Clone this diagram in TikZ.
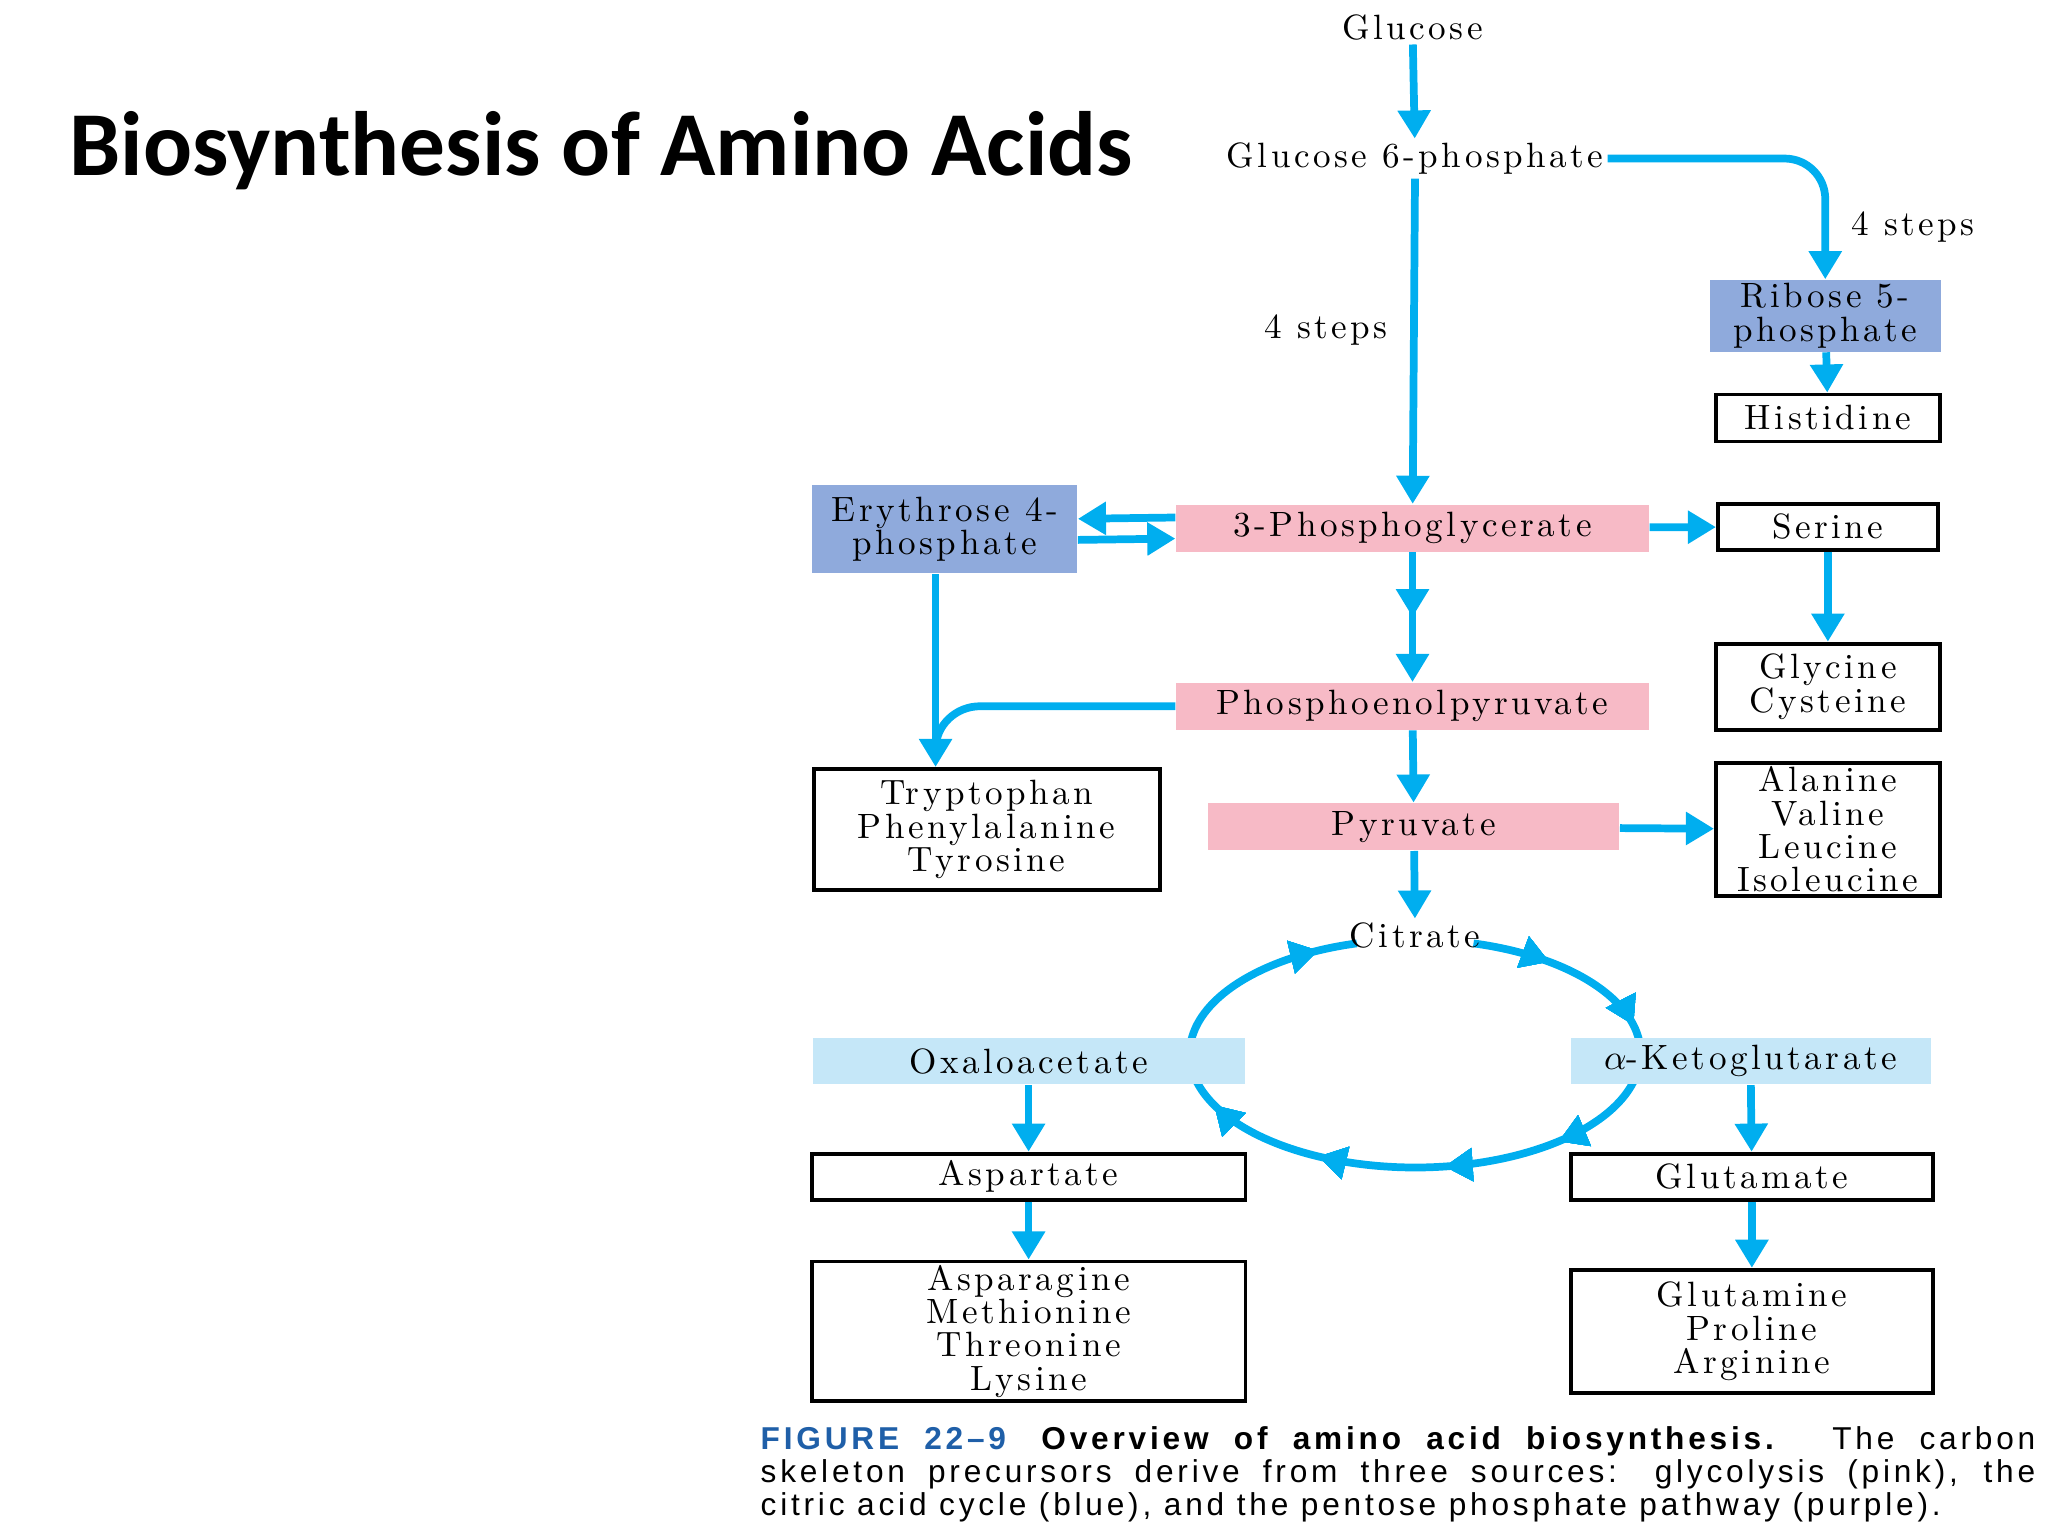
\documentclass[tikz,border=0pt]{standalone}
\usepackage{fontspec}
\setmainfont{Latin Modern Roman}[LetterSpace=10]
\newfontfamily\titlefont{Carlito}
\newfontfamily\capfont{Liberation Sans}[LetterSpace=12]
\usetikzlibrary{positioning}
\usetikzlibrary{arrows.meta}
\usetikzlibrary{calc}
\usetikzlibrary{decorations.markings}
\definecolor{flowblue}{HTML}{00AEEF}
\definecolor{glypink}{HTML}{F7BAC6}
\definecolor{ppppurple}{HTML}{8FAADC}
\definecolor{tcablue}{HTML}{C5E7F8}
\definecolor{capblue}{HTML}{1F5FA8}
\begin{document}
\begin{tikzpicture}[
		x=0.0131cm, y=-0.0131cm,
		every node/.style={font=\fontsize{10}{9.5}\selectfont, align=center, inner sep=1pt},
		glyco/.style={fill=glypink, minimum height=0.47cm},
		pentose/.style={fill=ppppurple},
		cycle/.style={fill=tcablue, minimum height=0.46cm},
		product/.style={draw, line width=1.1pt},
		flow/.style={draw=flowblue, line width=2.2pt, -{Triangle[length=8pt, width=9pt]}},
		plain/.style={draw=flowblue, line width=2.2pt},
		mid/.style={postaction={decorate}, decoration={markings, mark=at position #1 with {\arrow{Triangle[length=8pt, width=9pt]}}}}
		]
		\useasboundingbox (0,0) rectangle (1563,1172);
		% Title
		\node[font=\titlefont\bfseries\fontsize{26}{30}\selectfont, anchor=west] (title) at (50,115) {Biosynthesis of Amino Acids};
		
		% Cycle (behind the boxes)
		\coordinate (tca) at (1080,804);
		\draw[plain, flowblue, mid=0.08, mid=0.19, mid=0.35, mid=0.47, mid=0.6, mid=0.72, mid=0.96]
			($(tca)+(285:172 and 87)$) arc[start angle=285, end angle=615, x radius=172, y radius=87];
		
		% Nodes
		\node (glc) at (1078,21) {Glucose};
		\node (g6p) at (1080,121) {Glucose 6-phosphate};
		\node[pentose, minimum width=2.31cm, minimum height=0.71cm] (rib) at (1393,241) {Ribose 5-\\phosphate};
		\node[product, minimum width=2.24cm, minimum height=0.47cm] (his) at (1395,319) {Histidine};
		\node[glyco, minimum width=4.73cm] (pg3) at (1078,403) {3-Phosphoglycerate};
		\node[pentose, minimum width=2.65cm, minimum height=0.88cm] (ery) at (721,404) {Erythrose 4-\\phosphate};
		\node[product, minimum width=2.2cm, minimum height=0.46cm] (ser) at (1395,402) {Serine};
		\node[product, minimum width=2.24cm, minimum height=0.86cm] (gly) at (1395,524) {Glycine\\Cysteine};
		\node[glyco, minimum width=4.73cm] (pep) at (1078,539) {Phosphoenolpyruvate};
		\node[product, minimum width=3.46cm, minimum height=1.21cm] (trp) at (753,633) {Tryptophan\\Phenylalanine\\Tyrosine};
		\node[glyco, minimum width=4.11cm] (pyr) at (1079,631) {Pyruvate};
		\node[product, minimum width=2.24cm, minimum height=1.31cm] (ala) at (1395,633) {Alanine\\Valine\\Leucine\\Isoleucine};
		\node (cit) at (1080,714) {Citrate};
		\node[cycle, minimum width=4.32cm] (oaa) at (785,810) {Oxaloacetate};
		\node[cycle, minimum width=3.6cm] (akg) at (1336,810) {$\alpha$-Ketoglutarate};
		\node[product, minimum width=4.34cm, minimum height=0.46cm] (asp) at (785,898) {Aspartate};
		\node[product, minimum width=3.62cm, minimum height=0.46cm] (glu) at (1337,898) {Glutamate};
		\node[product, minimum width=4.34cm, minimum height=1.23cm] (asn) at (785,1016) {Asparagine\\Methionine\\Threonine\\Lysine};
		\node[product, minimum width=3.62cm, minimum height=1.23cm] (gln) at (1337,1016) {Glutamine\\Proline\\Arginine};
		
		% Step labels
		\node (stepsa) at (1012,252) {4 steps};
		\node (stepsb) at (1460,173) {4 steps};
		
		% Arrows
		\draw[flow] (glc) -- (g6p);
		\draw[flow] (g6p) -- (pg3);
		\draw[flow] (g6p.east) -- (1362,121) to[out=0, in=90] (1393,152) -- (rib.north);
		\draw[flow] (rib) -- (his);
		\draw[flow] ([yshift=3pt]pg3.west) -- ([yshift=3pt]ery.east);
		\draw[flow] ([yshift=-3pt]ery.east) -- ([yshift=-3pt]pg3.west);
		\draw[flow] (pg3) -- (ser);
		\draw[flow] (ser) -- (gly);
		\draw[flow, mid=0.5] (pg3) -- (pep);
		\coordinate (tx) at (714,0);
		\draw[flow] (ery.south -| tx) -- (trp.north -| tx);
		\draw[plain] (pep.west) -- (748,539) to[out=180, in=90] (714,572);
		\draw[flow] (pep) -- (pyr);
		\draw[flow] (pyr) -- (ala);
		\draw[flow] (pyr) -- (cit);
		\draw[flow] (oaa) -- (asp);
		\draw[flow] (asp) -- (asn);
		\draw[flow] (akg) -- (glu);
		\draw[flow] (glu) -- (gln);
		
		% Caption
		\node[anchor=north west, text width=12.75cm, align=justify, inner sep=0pt,
			font=\capfont\fontsize{9}{9.4}\selectfont] (caption) at (580,1088)
			{\textcolor{capblue}{\textbf{FIGURE 22\textendash9}}\quad\textbf{Overview of amino acid biosynthesis.} The carbon\linebreak skeleton precursors derive from three sources: glycolysis (pink), the\linebreak citric acid cycle (blue), and the pentose phosphate pathway (purple).};
	\end{tikzpicture}
\end{document}
